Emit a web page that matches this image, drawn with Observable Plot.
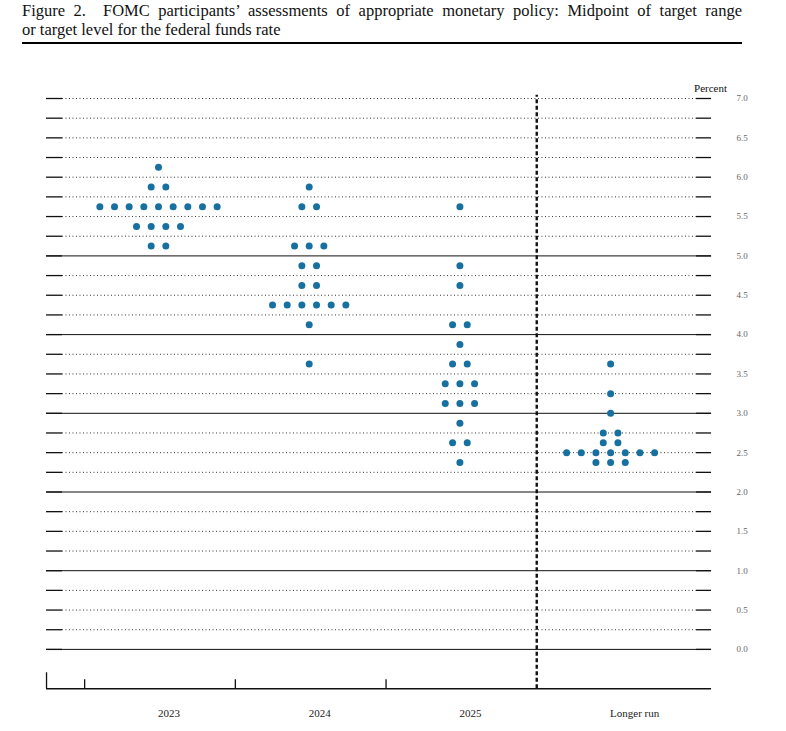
<!DOCTYPE html>
<html>
<head>
<meta charset="utf-8">
<script src="https://cdn.jsdelivr.net/npm/d3@7"></script>
<script src="https://cdn.jsdelivr.net/npm/@observablehq/plot@0.6"></script>
<style>
  html, body { margin: 0; padding: 0; background: #fff; }
  #head { position: relative; width: 786px; height: 50px; }
  #title { position: absolute; left: 22px; top: 2px; width: 720px; font-family: "Liberation Serif", serif; font-size: 16.5px; line-height: 18.5px; color: #111; }
  #title .l1 { text-align: justify; text-align-last: justify; white-space: normal; }
  #rule { position: absolute; left: 22px; top: 42px; width: 720px; height: 2px; background: #000; }
  #chart svg { display: block; }
</style>
</head>
<body>
<div id="head">
  <div id="title"><div class="l1">Figure 2.&nbsp; FOMC participants’ assessments of appropriate monetary policy: Midpoint of target range</div><div>or target level for the federal funds rate</div></div>
  <div id="rule"></div>
</div>
<div id="chart"></div>
<script>
// ---- data ----
const categories = ["2023", "2024", "2025", "Longer run"];
const rates2023  = [6.125, 5.875, 5.625, 5.375, 5.125];
const counts2023 = [1, 2, 9, 4, 2];
const rates2024  = [5.875, 5.625, 5.125, 4.875, 4.625, 4.375, 4.125, 3.625];
const counts2024 = [1, 2, 3, 2, 2, 6, 1, 1];
const rates2025  = [5.625, 4.875, 4.625, 4.125, 3.875, 3.625, 3.375, 3.125, 2.875, 2.625, 2.375];
const counts2025 = [1, 1, 1, 2, 1, 2, 3, 3, 1, 2, 1];
const ratesLR    = [3.625, 3.25, 3.0, 2.75, 2.625, 2.5, 2.375];
const countsLR   = [1, 1, 1, 2, 2, 7, 3];
const gridValues = d3.range(0, 7.0001, 0.25);
const solidValues = [0, 1, 2, 3, 4, 5];
const labelValues = d3.range(0, 7.0001, 0.5);
const axisTitle = "Percent";

// ---- layout helpers (x in category-index units) ----
const spacing = 0.0973;              // horizontal gap between dots in a row
const leftEdge = -0.753, leftIn = -0.647, rightIn = 3.560, rightEdge = 3.660;
const baseY = -0.5;

const series = [[rates2023, counts2023], [rates2024, counts2024], [rates2025, counts2025], [ratesLR, countsLR]];
const dots = [];
series.forEach(([rates, counts], ci) => {
  rates.forEach((r, k) => {
    const n = counts[k];
    for (let j = 0; j < n; j++) dots.push({x: ci + (j - (n - 1) / 2) * spacing, y: r});
  });
});
const dotted = gridValues.filter(v => !solidValues.includes(v));
const cats = categories.map((c, i) => ({label: c, i}));

const plot = Plot.plot({
  width: 786,
  height: 681,
  marginLeft: 0, marginRight: 0, marginTop: 48, marginBottom: 42.75,
  x: {domain: [-159.5 / 150.7, (786 - 159.5) / 150.7], axis: null},
  y: {domain: [-0.5, 7], axis: null},
  style: {fontFamily: "'Liberation Serif', serif"},
  marks: [
    Plot.ruleY(dotted, {x1: leftIn, x2: rightIn, stroke: "#333", strokeWidth: 1, strokeDasharray: "1,2.5"}),
    Plot.ruleY(solidValues, {x1: leftEdge, x2: rightEdge, stroke: "#111", strokeWidth: 1}),
    Plot.ruleY(gridValues, {x1: leftEdge, x2: leftIn, stroke: "#111", strokeWidth: 1.3}),
    Plot.ruleY(gridValues, {x1: rightIn, x2: rightEdge, stroke: "#111", strokeWidth: 1.3}),
    Plot.text(labelValues, {x: 3.863, y: d => d, text: d => d.toFixed(1), fontSize: 9, fill: "#666", textAnchor: "middle"}),
    Plot.text([axisTitle], {x: 3.653, y: 7.131, text: d => d, fontSize: 11, fill: "#111", textAnchor: "middle"}),
    Plot.ruleY([baseY], {x1: leftEdge, x2: rightEdge, stroke: "#111", strokeWidth: 1.3}),
    Plot.ruleX([-0.5, 0.5, 1.5], {y1: baseY, y2: baseY + 9 / 78.7, stroke: "#111", strokeWidth: 1.3}),
    Plot.ruleX([leftEdge], {y1: baseY, y2: baseY + 16 / 78.7, stroke: "#111", strokeWidth: 1.3}),
    Plot.ruleX([2.5], {y1: baseY, y2: 7.04, stroke: "#111", strokeWidth: 2.4, strokeDasharray: "4,2.5"}),
    Plot.dot(dots, {x: "x", y: "y", r: 3.5, fill: "#1870a0", stroke: "none", dx: -1.5}),
    Plot.text(cats, {x: "i", y: baseY - 0.318, text: "label", fontSize: 11, fill: "#222", textAnchor: "start", dx: -2})
  ]
});
document.getElementById("chart").appendChild(plot);
</script>
</body>
</html>
